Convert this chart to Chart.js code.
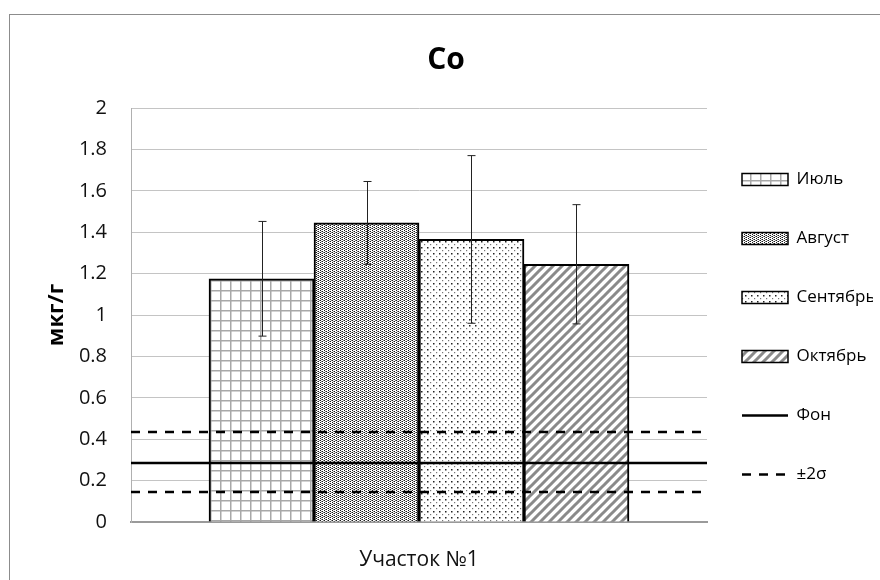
<!DOCTYPE html>
<html lang="ru">
<head>
    <meta charset="UTF-8">
    <title>Co</title>
    <script src="https://cdn.jsdelivr.net/npm/chart.js"></script>
    <style>
        html, body { margin: 0; padding: 0; background: #fff; }
        .chart-container { width: 880px; height: 580px; }
    </style>
</head>
<body>
    <div class="chart-container"><canvas id="chart"></canvas></div>
    <script>
        // data
        const categories = ['Участок №1'];
        const months = ['Июль', 'Август', 'Сентябрь', 'Октябрь'];
        const means = [1.175, 1.445, 1.365, 1.245];
        const errors = [0.277, 0.2, 0.405, 0.288];
        const background = 0.285;      // Фон
        const sigmaHigh = 0.435;       // +2σ
        const sigmaLow = 0.145;        // -2σ
        const yTickLabels = ['0', '0.2', '0.4', '0.6', '0.8', '1', '1.2', '1.4', '1.6', '1.8', '2'];

        // the four bars sit side by side at x = 1..4; the axis runs a bit wider (Excel gap)
        const xMin = -0.243, xMax = 5.243;

        Chart.defaults.font.family = "'Open Sans', sans-serif";
        Chart.defaults.color = '#111';

        // small tiles for the hatch fills
        function makeTile(w, h, draw) {
            const c = document.createElement('canvas');
            c.width = w; c.height = h;
            const g = c.getContext('2d');
            g.fillStyle = '#fff';
            g.fillRect(0, 0, w, h);
            draw(g);
            return document.createElement('canvas').getContext('2d').createPattern(c, 'repeat');
        }

        const gridFill = makeTile(10, 10, g => {
            g.fillStyle = '#a8a8a8';
            g.fillRect(0, 0, 10, 1.5);
            g.fillRect(0, 0, 1.5, 10);
        });
        const denseDots = makeTile(4, 4, g => {
            g.fillStyle = '#1a1a1a';
            g.fillRect(0, 0, 1, 1);
            g.fillRect(0, 2, 1, 1);
            g.fillRect(2, 1, 1, 1);
            g.fillRect(2, 3, 1, 1);
            g.fillStyle = '#8a8a8a';
            g.fillRect(1, 1, 1, 1);
            g.fillRect(1, 3, 1, 1);
            g.fillRect(3, 0, 1, 1);
        });
        const sparseDots = makeTile(6, 6, g => {
            g.fillStyle = '#222';
            g.fillRect(1, 1, 1.5, 1.5);
            g.fillStyle = '#777';
            g.fillRect(4, 4, 1.2, 1.2);
        });
        const diagonal = makeTile(9, 9, g => {
            g.strokeStyle = '#8a8a8a';
            g.lineWidth = 3;
            g.beginPath();
            g.moveTo(-2, 11); g.lineTo(11, -2);
            g.moveTo(-11, 11); g.lineTo(2, -2);
            g.moveTo(7, 11); g.lineTo(20, -2);
            g.stroke();
        });
        const fills = [gridFill, denseDots, sparseDots, diagonal];

        const datasets = [
            {
                type: 'bar',
                label: categories[0],
                data: means.map((v, i) => ({ x: i + 1, y: v })),
                backgroundColor: fills,
                borderColor: '#000',
                borderWidth: 2,
                categoryPercentage: 1,
                barPercentage: 1,
                order: 2
            },
            {
                type: 'line',
                label: 'Фон',
                data: [{ x: xMin, y: background }, { x: xMax, y: background }],
                borderColor: '#000',
                borderWidth: 2.5,
                pointRadius: 0,
                order: 1
            },
            {
                type: 'line',
                label: '±2σ',
                data: [{ x: xMin, y: sigmaHigh }, { x: xMax, y: sigmaHigh }, { x: xMax, y: null },
                       { x: xMin, y: sigmaLow }, { x: xMax, y: sigmaLow }],
                borderColor: '#000',
                borderWidth: 2.5,
                borderDash: [9, 8],
                pointRadius: 0,
                spanGaps: false,
                order: 1
            }
        ];

        const errorBars = {
            id: 'errorBars',
            afterDatasetsDraw(chart) {
                const ctx = chart.ctx;
                const y = chart.scales.y;
                const bars = chart.getDatasetMeta(0).data;
                ctx.save();
                ctx.strokeStyle = '#222';
                ctx.lineWidth = 1;
                months.forEach((m, i) => {
                    const x = Math.round(bars[i].x) + 0.5;
                    const top = y.getPixelForValue(means[i] + errors[i]);
                    const bottom = y.getPixelForValue(means[i] - errors[i]);
                    ctx.beginPath();
                    ctx.moveTo(x, top); ctx.lineTo(x, bottom);
                    ctx.moveTo(x - 4, top); ctx.lineTo(x + 4, top);
                    ctx.moveTo(x - 4, bottom); ctx.lineTo(x + 4, bottom);
                    ctx.stroke();
                });
                ctx.restore();
            }
        };

        const frame = {
            id: 'frame',
            beforeDraw(chart) {
                const ctx = chart.ctx;
                ctx.save();
                ctx.fillStyle = '#fff';
                ctx.fillRect(0, 0, chart.width, chart.height);
                ctx.strokeStyle = '#8c8c8c';
                ctx.lineWidth = 1;
                ctx.strokeRect(9.5, 14.5, chart.width + 20, chart.height + 20);
                ctx.restore();
            }
        };

        // nudge the legend a little left and down, like the Excel one
        const legendNudge = {
            id: 'legendNudge',
            afterLayout(chart) {
                const lg = chart.legend;
                lg.left -= 7; lg.right -= 7;
                lg.top += 3; lg.bottom += 3;
            }
        };

        new Chart(document.getElementById('chart'), {
            type: 'bar',
            data: { datasets: datasets },
            options: {
                responsive: true,
                maintainAspectRatio: false,
                animation: false,
                layout: { padding: { left: 12, right: 0, top: 0, bottom: 12 } },
                plugins: {
                    tooltip: { enabled: false },
                    title: {
                        display: true,
                        text: 'Co',
                        font: { size: 30, weight: 'bold' },
                        color: '#000',
                        padding: { top: 42, bottom: 30 }
                    },
                    legend: {
                        position: 'right',
                        align: 'end',
                        fullSize: false,
                        maxWidth: 173,
                        labels: {
                            usePointStyle: true,
                            pointStyleWidth: 46,
                            boxHeight: 12,
                            padding: 42,
                            color: '#111',
                            font: { size: 17 },
                            generateLabels(chart) {
                                const items = months.map((m, i) => ({
                                    text: m,
                                    fillStyle: fills[i],
                                    strokeStyle: '#000',
                                    lineWidth: 1.5,
                                    pointStyle: 'rect',
                                    datasetIndex: 0,
                                    hidden: false
                                }));
                                [1, 2].forEach(di => {
                                    const ds = chart.data.datasets[di];
                                    items.push({
                                        text: ds.label,
                                        fillStyle: '#000',
                                        strokeStyle: '#000',
                                        lineWidth: 2.5,
                                        lineDash: ds.borderDash || [],
                                        pointStyle: 'line',
                                        datasetIndex: di,
                                        hidden: false
                                    });
                                });
                                return items;
                            }
                        }
                    }
                },
                scales: {
                    x: {
                        type: 'linear',
                        min: xMin,
                        max: xMax,
                        offset: false,
                        grid: { display: false, offset: false },
                        border: { color: '#9a9a9a', width: 2 },
                        afterBuildTicks(scale) {
                            scale.ticks = [{ value: (xMin + xMax) / 2 }];
                        },
                        ticks: {
                            font: { size: 21 },
                            color: '#111',
                            padding: 17,
                            maxRotation: 0,
                            callback: () => categories[0]
                        },
                        afterFit(scale) { scale.height = 46; }
                    },
                    y: {
                        min: 0,
                        max: 2,
                        ticks: {
                            stepSize: 0.2,
                            padding: 24,
                            font: { size: 20 },
                            color: '#111',
                            callback: (v, i) => yTickLabels[i]
                        },
                        grid: { color: '#c4c4c4', drawTicks: false },
                        border: { color: '#b0b0b0' },
                        title: {
                            display: true,
                            text: 'мкг/г',
                            font: { size: 22, weight: 'bold' },
                            color: '#000',
                            padding: { top: 32, bottom: 0 }
                        },
                        afterFit(scale) { scale.width = 119; }
                    }
                }
            },
            plugins: [frame, errorBars, legendNudge]
        });
    </script>
</body>
</html>
